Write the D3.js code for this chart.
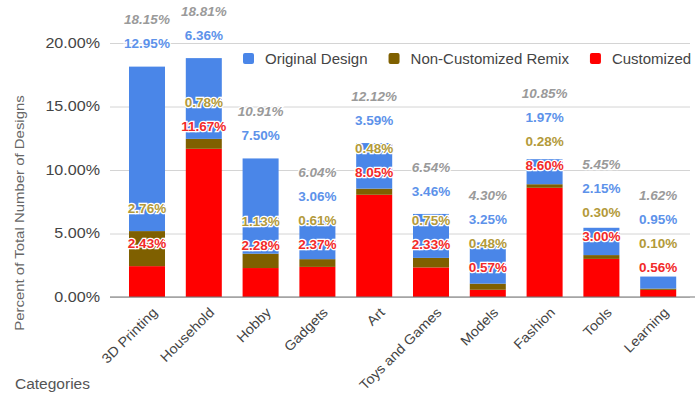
<!DOCTYPE html>
<html>
<head>
<meta charset="utf-8">
<script src="https://cdn.jsdelivr.net/npm/d3@7"></script>
<style>
  html, body { margin: 0; padding: 0; background: #fff; }
  svg { display: block; font-family: "Liberation Sans", Arial, sans-serif; }
</style>
</head>
<body>
<svg id="chart" width="695" height="393"></svg>
<script>
// ---- data ----
const categories = ["3D Printing", "Household", "Hobby", "Gadgets", "Art", "Toys and Games", "Models", "Fashion", "Tools", "Learning"];
const customized = [2.43, 11.67, 2.28, 2.37, 8.05, 2.33, 0.57, 8.60, 3.00, 0.56];
const remix      = [2.76, 0.78, 1.13, 0.61, 0.48, 0.75, 0.48, 0.28, 0.30, 0.10];
const original   = [12.95, 6.36, 7.50, 3.06, 3.59, 3.46, 3.25, 1.97, 2.15, 0.95];
const totals     = [18.15, 18.81, 10.91, 6.04, 12.12, 6.54, 4.30, 10.85, 5.45, 1.62];
const seriesNames = ["Customized", "Non-Customized Remix", "Original Design"];
const legendOrder = ["Original Design", "Non-Customized Remix", "Customized"];
const yTicks = [0, 5, 10, 15, 20];

// ---- styles ----
const barColors = { "Customized": "#ff0000", "Non-Customized Remix": "#7f6000", "Original Design": "#4a86e8" };
const labelColors = { "Customized": "#f22a2a", "Non-Customized Remix": "#b39a3a", "Original Design": "#5d92ea" };

const svg = d3.select("#chart");

const rows = categories.map((c, i) => ({
  category: c,
  "Customized": customized[i],
  "Non-Customized Remix": remix[i],
  "Original Design": original[i],
  total: totals[i]
}));

const x = d3.scaleBand().domain(categories).range([118.6, 686.6]).paddingInner(0.366).paddingOuter(0.183);
const y = d3.scaleLinear().domain([0, 20]).range([297, 43]);

// gridlines + y axis
const yAxis = d3.axisLeft(y).tickValues(yTicks).tickSize(-(690 - 110)).tickPadding(10)
  .tickFormat(d => d.toFixed(2) + "%");
const gy = svg.append("g").attr("transform", "translate(110,0)").call(yAxis);
gy.select(".domain").remove();
gy.selectAll(".tick line").attr("stroke", "#d4d4d4").attr("stroke-width", 1);
gy.selectAll(".tick text").attr("fill", "#444").attr("font-size", 14)
  .attr("x", 0).attr("transform", "translate(-10,0) scale(1.15,1)");

// legend (drawn over gridlines)
const legend = svg.append("g").attr("font-size", 15).attr("fill", "#444");
let lx = 243;
legendOrder.forEach(name => {
  const g = legend.append("g").attr("transform", `translate(${lx},53)`);
  g.append("rect").attr("width", 11).attr("height", 11).attr("rx", 2).attr("fill", barColors[name]);
  const t = g.append("text").attr("x", 22).attr("y", 11).text(name).attr("fill", "#444");
  lx += 22 + t.node().getComputedTextLength() + 21;
});

// stacked bars
const stack = d3.stack().keys(seriesNames)(rows);
svg.append("g").selectAll("g").data(stack).join("g")
  .attr("fill", d => barColors[d.key])
  .selectAll("rect").data(d => d).join("rect")
  .attr("x", d => x(d.data.category))
  .attr("width", x.bandwidth())
  .attr("y", d => y(d[1]))
  .attr("height", d => y(d[0]) - y(d[1]));

// x axis line
svg.append("line").attr("x1", 110).attr("x2", 695).attr("y1", y(0)).attr("y2", y(0))
  .attr("stroke", "#777").attr("stroke-width", 1.2);

// data labels: each placed above its segment top, pushed up to avoid overlap
const labelGap = 23, labelStep = 24;
const labels = [];
rows.forEach((r, i) => {
  let prev = Infinity;
  stack.forEach(s => {
    const top = y(s[i][1]);
    const cy = Math.min(top - labelGap, prev - labelStep);
    labels.push({ cx: x(r.category) + x.bandwidth() / 2, cy, text: s[i].data[s.key].toFixed(2) + "%", color: labelColors[s.key], italic: false });
    prev = cy;
  });
  labels.push({ cx: x(r.category) + x.bandwidth() / 2, cy: prev - labelStep, text: r.total.toFixed(2) + "%", color: "#9a9a9a", italic: true });
});
svg.append("g").selectAll("text").data(labels).join("text")
  .attr("x", d => d.cx).attr("y", d => d.cy).attr("dy", "0.36em")
  .attr("text-anchor", "middle")
  .attr("font-size", 13.5).attr("font-weight", "bold")
  .attr("font-style", d => d.italic ? "italic" : "normal")
  .attr("fill", d => d.color)
  .attr("stroke", "#fff").attr("stroke-width", 2.5).attr("paint-order", "stroke")
  .text(d => d.text);

// x tick labels
const xAxis = d3.axisBottom(x).tickSize(0).tickPadding(0);
const gx = svg.append("g").attr("transform", `translate(0,${y(0)})`).call(xAxis);
gx.select(".domain").remove();
gx.selectAll(".tick text")
  .attr("fill", "#444").attr("font-size", 13.5)
  .attr("text-anchor", "end")
  .attr("y", 0)
  .attr("transform", "translate(8,13) rotate(-45) scale(1.08,1)")
  .attr("dy", "0.35em");

// axis titles
svg.append("text").attr("transform", "translate(24,213) rotate(-90) scale(1.15,1)")
  .attr("text-anchor", "middle").attr("font-size", 13).attr("fill", "#666")
  .text("Percent of Total Number of Designs");
svg.append("text").attr("x", 15).attr("y", 389).attr("font-size", 15.5).attr("fill", "#555")
  .text("Categories");
</script>
</body>
</html>
